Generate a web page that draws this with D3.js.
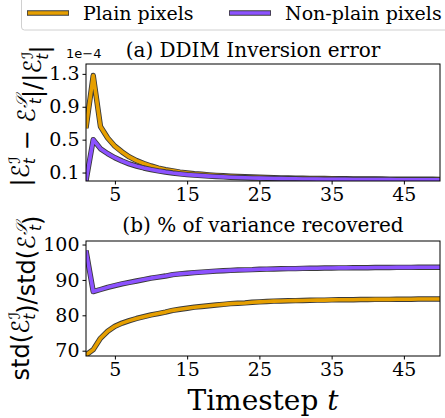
<!DOCTYPE html>
<html>
<head>
<meta charset="utf-8">
<script src="https://cdn.jsdelivr.net/npm/d3@7"></script>
<style>
  body { margin: 0; background: #fff; }
  svg { display: block; }
</style>
</head>
<body>
<svg id="chart"></svg>
<script>
// timesteps 1..50
const timesteps = d3.range(1, 51);

// (a) relative inversion error, in units of 1e-4
const errPlain = [0.64, 1.28, 0.66, 0.52, 0.42, 0.35, 0.29, 0.245, 0.21, 0.18,
  0.155, 0.135, 0.12, 0.105, 0.095, 0.086, 0.079, 0.072, 0.066, 0.061,
  0.056, 0.052, 0.048, 0.045, 0.042, 0.039, 0.037, 0.035, 0.033, 0.031,
  0.03, 0.029, 0.028, 0.027, 0.026, 0.025, 0.024, 0.023, 0.022, 0.022,
  0.021, 0.021, 0.02, 0.02, 0.019, 0.019, 0.018, 0.018, 0.018, 0.017];
const errNonPlain = [0.0, 0.50, 0.39, 0.33, 0.28, 0.24, 0.205, 0.178, 0.155, 0.136,
  0.12, 0.106, 0.094, 0.084, 0.075, 0.068, 0.062, 0.056, 0.051, 0.047,
  0.043, 0.04, 0.037, 0.034, 0.032, 0.03, 0.028, 0.026, 0.025, 0.024,
  0.022, 0.021, 0.02, 0.019, 0.018, 0.018, 0.017, 0.016, 0.016, 0.015,
  0.015, 0.014, 0.014, 0.013, 0.013, 0.013, 0.012, 0.012, 0.012, 0.011];

// (b) % of variance recovered
const varPlain = [68.8, 70.3, 73.5, 75.5, 76.9, 77.8, 78.5, 79.1, 79.6, 80.1,
  80.5, 80.9, 81.4, 81.7, 82.0, 82.3, 82.5, 82.7, 82.9, 83.1,
  83.3, 83.4, 83.5, 83.7, 83.8, 83.9, 84.0, 84.05, 84.1, 84.15,
  84.2, 84.25, 84.3, 84.3, 84.35, 84.4, 84.4, 84.4, 84.45, 84.45,
  84.5, 84.5, 84.5, 84.55, 84.55, 84.55, 84.6, 84.6, 84.6, 84.6];
const varNonPlain = [98.3, 86.7, 87.3, 87.9, 88.4, 88.9, 89.3, 89.7, 90.1, 90.5,
  90.8, 91.1, 91.5, 91.7, 91.9, 92.05, 92.2, 92.35, 92.5, 92.6,
  92.7, 92.8, 92.85, 92.9, 93.0, 93.05, 93.1, 93.15, 93.2, 93.2,
  93.25, 93.3, 93.3, 93.35, 93.35, 93.4, 93.4, 93.45, 93.45, 93.45,
  93.5, 93.5, 93.5, 93.55, 93.55, 93.55, 93.6, 93.6, 93.6, 93.6];

const xTicks = [5, 15, 25, 35, 45];
const yTicksA = [0.1, 0.5, 0.9, 1.3];
const yTicksB = [70, 80, 90, 100];
const seriesNames = ["Plain pixels", "Non-plain pixels"];
const colors = ["#E69F00", "#8C52FF"];

const width = 445, height = 418;
const serif = "DejaVu Serif";
const sans = "DejaVu Sans";

const svg = d3.select("#chart").attr("width", width).attr("height", height);

const x = d3.scaleLinear().domain([1, 50]).range([86, 440]);

function panel(top, bottom, yDomain, yTicks, fmt, series, title, titleX, titleY, id) {
  const y = d3.scaleLinear().domain(yDomain).range([bottom, top]);

  svg.append("defs").append("clipPath").attr("id", id)
    .append("rect").attr("x", 86).attr("y", top).attr("width", 354).attr("height", bottom - top);

  const line = d3.line().x((d, i) => x(timesteps[i])).y(d => y(d));
  const g = svg.append("g").attr("clip-path", "url(#" + id + ")");
  series.forEach((s, k) => {
    // outline then colored stroke, like a matplotlib path effect
    g.append("path").datum(s).attr("d", line).attr("fill", "none")
      .attr("stroke", "#3a3a3a").attr("stroke-width", 5.4).attr("stroke-linejoin", "round");
    g.append("path").datum(s).attr("d", line).attr("fill", "none")
      .attr("stroke", colors[k]).attr("stroke-width", 3.6).attr("stroke-linejoin", "round");
  });

  svg.append("rect").attr("x", 86).attr("y", top).attr("width", 354).attr("height", bottom - top)
    .attr("fill", "none").attr("stroke", "#000").attr("stroke-width", 1);

  const xa = svg.append("g").attr("transform", "translate(0," + bottom + ")")
    .call(d3.axisBottom(x).tickValues(xTicks).tickSize(3.5).tickPadding(3));
  const ya = svg.append("g").attr("transform", "translate(86,0)")
    .call(d3.axisLeft(y).tickValues(yTicks).tickFormat(fmt).tickSize(3.5).tickPadding(3));
  [xa, ya].forEach(a => {
    a.select(".domain").remove();
    a.selectAll("text").attr("font-family", serif).attr("font-size", 19).attr("fill", "#000");
  });

  svg.append("text").attr("x", titleX).attr("y", titleY).attr("text-anchor", "middle")
    .attr("font-family", serif).attr("font-size", 20).text(title);
  return y;
}

panel(64, 181, [-0.003, 1.42], yTicksA, d3.format(".1f"), [errPlain, errNonPlain],
  "(a) DDIM Inversion error", 253, 57, "clipA");
panel(241, 356, [68.5, 101], yTicksB, d3.format("d"), [varPlain, varNonPlain],
  "(b) % of variance recovered", 263, 232, "clipB");

// offset text for the scaled axis
svg.append("text").attr("x", 66).attr("y", 58).attr("font-family", sans).attr("font-size", 13)
  .text("1e\u22124");

// y labels with calligraphic E and sub/superscripts
function eps(t, sup) {
  t.append("tspan").text("\u2130");
  t.append("tspan").attr("font-size", "65%").attr("dy", "-0.55em").attr("font-style", "italic").text(sup);
  t.append("tspan").attr("font-size", "65%").attr("dx", "-0.5em").attr("dy", "0.95em").attr("font-style", "italic").text("t");
  t.append("tspan").attr("dy", "-0.4em").text("");
}

const la = svg.append("text").attr("transform", "translate(29,116) rotate(-90)")
  .attr("text-anchor", "middle").attr("font-family", sans).attr("font-size", 24);
la.append("tspan").text("|");
eps(la, "\u2110");
la.append("tspan").text(" \u2212 ");
eps(la, "\ud835\udcae");
la.append("tspan").text("|/|");
eps(la, "\u2110");
la.append("tspan").text("|");

const lb = svg.append("text").attr("transform", "translate(29,298) rotate(-90)")
  .attr("text-anchor", "middle").attr("font-family", sans).attr("font-size", 24);
lb.append("tspan").text("std(");
eps(lb, "\u2110");
lb.append("tspan").text(")/std(");
eps(lb, "\ud835\udcae");
lb.append("tspan").text(")");

svg.append("text").attr("x", 263).attr("y", 410).attr("text-anchor", "middle")
  .attr("font-family", serif).attr("font-size", 28)
  .call(t => {
    t.append("tspan").text("Timestep ");
    t.append("tspan").attr("font-style", "italic").text("t");
  });

// legend
const leg = svg.append("g");
leg.append("rect").attr("x", 21.5).attr("y", -6).attr("width", 440).attr("height", 36).attr("rx", 3)
  .attr("fill", "#fff").attr("stroke", "#d0d0d0").attr("stroke-width", 1);
const legX = [27, 229];
seriesNames.forEach((name, k) => {
  leg.append("line").attr("x1", legX[k]).attr("x2", legX[k] + 42).attr("y1", 13).attr("y2", 13)
    .attr("stroke", "#3a3a3a").attr("stroke-width", 5.4);
  leg.append("line").attr("x1", legX[k] + 0.8).attr("x2", legX[k] + 41.2).attr("y1", 13).attr("y2", 13)
    .attr("stroke", colors[k]).attr("stroke-width", 3.6);
  leg.append("text").attr("x", legX[k] + 56).attr("y", 19.5).attr("font-family", serif)
    .attr("font-size", 19).text(name);
});
</script>
</body>
</html>
